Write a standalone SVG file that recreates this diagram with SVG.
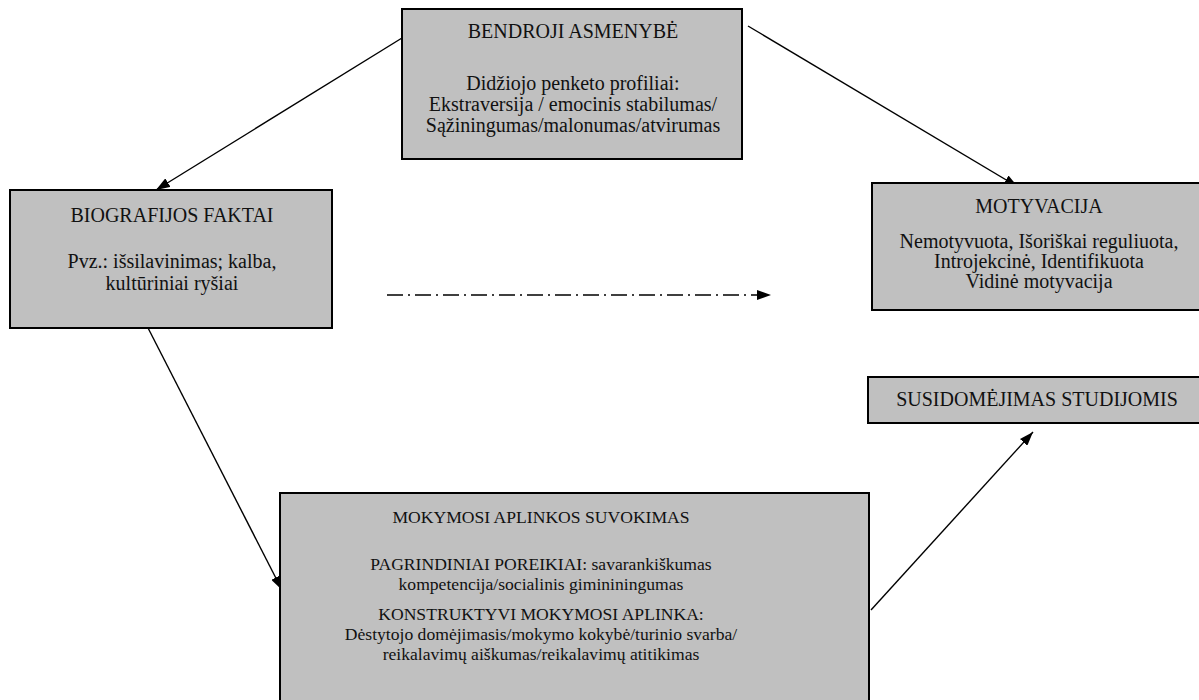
<svg xmlns="http://www.w3.org/2000/svg" width="1199" height="700" viewBox="0 0 1199 700">
<defs>
<style>
.box{fill:#c0c0c0;stroke:#000;stroke-width:2}
.t{font-family:"Liberation Serif","Times New Roman",serif;font-size:20px;fill:#111;text-anchor:middle}
.s{font-size:17.6px}
.ln{stroke:#000;stroke-width:1.4;fill:none}
</style>
<marker id="ah" viewBox="0 0 14 10" refX="14" refY="5" markerWidth="14" markerHeight="10" markerUnits="userSpaceOnUse" orient="auto">
<path d="M0,0 L14,5 L0,10 Z" fill="#000"/>
</marker>
</defs>
<rect width="1199" height="700" fill="#fff"/>
<g id="connectors">
<line class="ln" x1="402" y1="38" x2="156" y2="190" marker-end="url(#ah)"/>
<line class="ln" x1="748" y1="26" x2="1018" y2="187" marker-end="url(#ah)"/>
<line class="ln" x1="387" y1="295" x2="771" y2="295" stroke-dasharray="16 5 2 5" marker-end="url(#ah)"/>
<line class="ln" x1="146" y1="324" x2="282" y2="590" marker-end="url(#ah)"/>
<line class="ln" x1="871" y1="610" x2="1033" y2="432" marker-end="url(#ah)"/>
</g>
<g id="bendroji">
<rect class="box" x="402" y="9" width="340" height="150"/>
<text class="t" x="573" y="38">BENDROJI ASMENYBĖ</text>
<text class="t" x="573" y="90">Didžiojo penketo profiliai:</text>
<text class="t" x="573" y="111">Ekstraversija / emocinis stabilumas/</text>
<text class="t" x="573" y="132">Sąžiningumas/malonumas/atvirumas</text>
</g>
<g id="biografijos">
<rect class="box" x="10" y="190" width="322" height="138"/>
<text class="t" x="172" y="222">BIOGRAFIJOS FAKTAI</text>
<text class="t" x="172" y="268">Pvz.: išsilavinimas; kalba,</text>
<text class="t" x="172" y="290">kultūriniai ryšiai</text>
</g>
<g id="motyvacija">
<rect class="box" x="872" y="183" width="334" height="127"/>
<text class="t" x="1039" y="213">MOTYVACIJA</text>
<text class="t" x="1039" y="248">Nemotyvuota, Išoriškai reguliuota,</text>
<text class="t" x="1039" y="268">Introjekcinė, Identifikuota</text>
<text class="t" x="1039" y="288">Vidinė motyvacija</text>
</g>
<g id="susidomejimas">
<rect class="box" x="868" y="377" width="338" height="46"/>
<text class="t" x="1037" y="406">SUSIDOMĖJIMAS STUDIJOMIS</text>
</g>
<g id="mokymosi">
<rect class="box" x="280" y="493" width="589" height="212"/>
<text class="t s" x="541" y="523">MOKYMOSI APLINKOS SUVOKIMAS</text>
<text class="t s" x="541" y="570">PAGRINDINIAI POREIKIAI: savarankiškumas</text>
<text class="t s" x="541" y="590">kompetencija/socialinis gimininingumas</text>
<text class="t s" x="541" y="620">KONSTRUKTYVI MOKYMOSI APLINKA:</text>
<text class="t s" x="541" y="640">Dėstytojo domėjimasis/mokymo kokybė/turinio svarba/</text>
<text class="t s" x="541" y="660">reikalavimų aiškumas/reikalavimų atitikimas</text>
</g>
</svg>
